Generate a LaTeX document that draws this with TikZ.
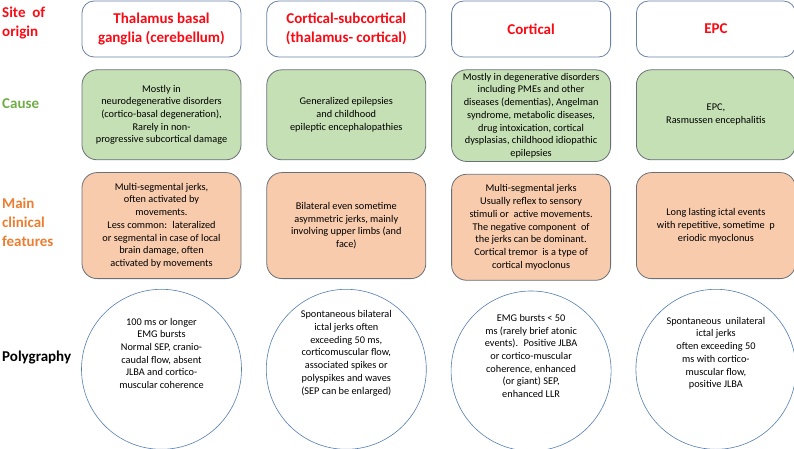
\documentclass[tikz,border=0pt]{standalone}
\usepackage{fontspec}
\setmainfont{Carlito}
\usepackage{tikz}
\usetikzlibrary{positioning}
\definecolor{sitered}{RGB}{250,10,20}
\definecolor{causegreen}{RGB}{112,173,71}
\definecolor{featorange}{RGB}{237,125,49}
\definecolor{causefill}{RGB}{197,224,180}
\definecolor{featfill}{RGB}{248,203,173}
\definecolor{headline}{RGB}{105,130,165}
\definecolor{boxline}{RGB}{105,112,120}
\definecolor{circline}{RGB}{84,125,175}

\begin{document}
\begin{tikzpicture}[
    x=1pt, y=1pt,
    node distance=25pt,
    every node/.style={align=center},
    bodytext/.style={font=\fontsize{10.3}{12.7}\selectfont},
    headbox/.style={draw=headline, line width=0.8pt, fill=white, rounded corners=12pt, minimum width=159pt, minimum height=56pt, text=sitered, font=\fontsize{15}{19}\selectfont\bfseries},
    causebox/.style={draw=boxline, line width=0.8pt, fill=causefill, rounded corners=15pt, minimum width=159pt, minimum height=90pt, bodytext},
    featbox/.style={draw=boxline, line width=0.8pt, fill=featfill, rounded corners=15pt, minimum width=159pt, minimum height=106pt, bodytext},
    polycirc/.style={draw=circline, line width=0.6pt, circle, minimum size=160pt, inner sep=0pt},
    rowlabel/.style={anchor=west, align=left, inner sep=0pt, font=\fontsize{15}{19}\selectfont\bfseries}
]
\useasboundingbox (0,0) rectangle (794,-449);

% Row labels
\node[rowlabel, text=sitered] (siteL) at (2,-23) {Site\ \ of\\origin};
\node[rowlabel, text=causegreen] (causeL) at (2,-104) {Cause};
\node[rowlabel, text=featorange] (featL) at (2,-222) {Main\\clinical\\features};
\node[rowlabel] (polyL) at (2,-358) {Polygraphy};

% Site of origin
\node[headbox] (h1) at (161.5,-29) {Thalamus basal\\ganglia (cerebellum)};
\node[headbox, right=of h1] (h2) {Cortical-subcortical\\(thalamus- cortical)};
\node[headbox, right=of h2] (h3) {Cortical};
\node[headbox, right=of h3] (h4) {EPC};

% Cause
\node[causebox, below=12pt of h1] (c1) {Mostly in\\neurodegenerative disorders\\(cortico-basal degeneration),\\Rarely in non-\\progressive subcortical damage};
\node[causebox, below=12pt of h2] (c2) {Generalized epilepsies\\and childhood\\epileptic encephalopathies};
\node[causebox, below=12pt of h3] (c3) {Mostly in degenerative disorders\\including PMEs and other\\diseases (dementias), Angelman\\syndrome, metabolic diseases,\\drug intoxication, cortical\\dysplasias, childhood idiopathic\\epilepsies};
\node[causebox, below=12pt of h4] (c4) {EPC,\\Rasmussen encephalitis};

% Main clinical features
\node[featbox, below=12pt of c1] (f1) {Multi-segmental jerks,\\often activated by\\movements.\\Less common:~ lateralized\\or segmental in case of local\\brain damage, often\\activated by movements};
\node[featbox, below=12pt of c2] (f2) {Bilateral even sometime\\asymmetric jerks, mainly\\involving upper limbs (and\\face)};
\node[featbox, below=12pt of c3] (f3) {Multi-segmental jerks\\Usually reflex to sensory\\stimuli or~ active movements.\\The negative component~ of\\the jerks can be dominant.\\Cortical tremor~ is a type of\\cortical myoclonus};
\node[featbox, below=12pt of c4] (f4) {Long lasting ictal events\\with repetitive, sometime~ p\\eriodic myoclonus};

% Polygraphy
\node[polycirc, below=10pt of f1] (p1) {};
\node[polycirc, below=10pt of f2] (p2) {};
\node[polycirc, below=10pt of f3] (p3) {};
\node[polycirc, below=10pt of f4] (p4) {};
\node[bodytext] (t1) at ([yshift=16pt]p1.center) {100 ms or longer\\EMG bursts\\Normal SEP, cranio-\\caudal flow, absent\\JLBA and cortico-\\muscular coherence};
\node[bodytext] (t2) at ([yshift=16pt]p2.center) {Spontaneous bilateral\\ictal jerks often\\exceeding 50 ms,\\corticomuscular flow,\\associated spikes or\\polyspikes and waves\\(SEP can be enlarged)};
\node[bodytext] (t3) at ([yshift=15pt]p3.center) {EMG bursts < 50\\ms (rarely brief atonic\\events).~ Positive JLBA\\or cortico-muscular\\coherence, enhanced\\(or giant) SEP,\\enhanced LLR};
\node[bodytext] (t4) at ([yshift=16pt]p4.center) {Spontaneous~ unilateral\\ictal jerks\\often exceeding 50\\ms with cortico-\\muscular flow,\\positive JLBA};

\end{tikzpicture}
\end{document}
